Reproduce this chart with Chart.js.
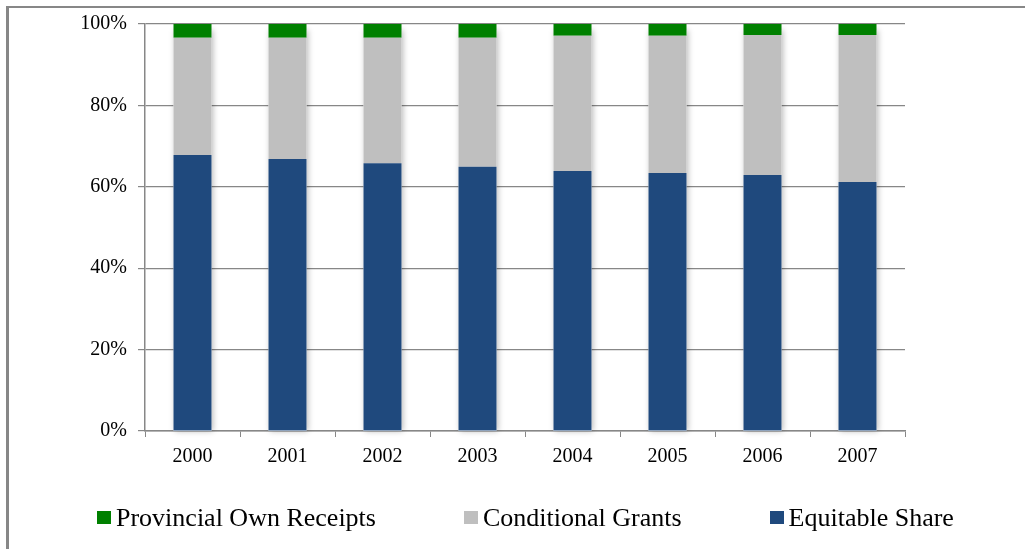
<!DOCTYPE html>
<html>
<head>
<meta charset="utf-8">
<script src="https://cdn.jsdelivr.net/npm/chart.js@4.4.1/dist/chart.umd.min.js"></script>
<style>
  html, body { margin: 0; padding: 0; background: #fff; }
  #wrap { position: relative; width: 1025px; height: 549px; overflow: hidden; }
  #frame { position: absolute; left: 6px; top: 6px; width: 1100px; height: 600px;
           border-left: 3px solid #878787; border-top: 2px solid #878787; pointer-events: none; }
  canvas { position: absolute; left: 0; top: 0; }
  #legend { position: absolute; left: 97px; top: 503px; height: 30px; display: flex; align-items: center;
            font-family: "Liberation Serif", "Times New Roman", serif; font-size: 26px; line-height: 30px; color: #000; white-space: nowrap; }
  .item { display: flex; align-items: center; margin-right: 88px; }
  .box { width: 14px; height: 13px; margin-right: 5px; margin-top: -1px; }
</style>
</head>
<body>
<div id="wrap">
  <div id="frame"></div>
  <canvas id="c" width="1025" height="549"></canvas>
  <div id="legend"></div>
</div>
<script>
const categories = ["2000", "2001", "2002", "2003", "2004", "2005", "2006", "2007"];
const equitableShare = [67.8, 66.8, 65.8, 64.9, 63.9, 63.4, 62.9, 61.2];
const conditionalGrants = [28.8, 29.8, 30.8, 31.7, 33.2, 33.7, 34.4, 36.1];
const provincialOwnReceipts = [3.4, 3.4, 3.4, 3.4, 2.9, 2.9, 2.7, 2.7];
const yTicks = [0, 20, 40, 60, 80, 100];

const COLORS = { equitable: "#1F497D", conditional: "#BFBFBF", own: "#008000" };
const AXIS = "#878787";
const FONT = "'Liberation Serif', 'Times New Roman', serif";

const shadowPlugin = {
  id: "barShadow",
  beforeDatasetsDraw(chart) {
    const ctx = chart.ctx;
    const meta = chart.getDatasetMeta(0);
    const y = chart.scales.y;
    ctx.save();
    ctx.shadowColor = "rgba(0,0,0,0.28)";
    ctx.shadowBlur = 6;
    ctx.shadowOffsetX = 1;
    ctx.fillStyle = "#ffffff";
    meta.data.forEach((bar, i) => {
      const total = chart.data.datasets.reduce((s, d) => s + d.data[i], 0);
      const top = y.getPixelForValue(total);
      const bottom = y.getPixelForValue(0);
      ctx.fillRect(bar.x - bar.width / 2, top + 6, bar.width, bottom - top - 6);
    });
    ctx.restore();
  }
};

const chart = new Chart(document.getElementById("c"), {
  type: "bar",
  data: {
    labels: categories,
    datasets: [
      { label: "Equitable Share", data: equitableShare, backgroundColor: COLORS.equitable },
      { label: "Conditional Grants", data: conditionalGrants, backgroundColor: COLORS.conditional },
      { label: "Provincial Own Receipts", data: provincialOwnReceipts, backgroundColor: COLORS.own }
    ]
  },
  options: {
    responsive: false,
    animation: false,
    layout: { padding: { left: 0, right: 120, top: 24, bottom: 78 } },
    datasets: { bar: { categoryPercentage: 1.0, barPercentage: 0.4, borderWidth: 0 } },
    plugins: { legend: { display: false }, tooltip: { enabled: false } },
    scales: {
      x: {
        stacked: true,
        grid: { offset: true, drawOnChartArea: false, drawTicks: true, tickLength: 6, color: AXIS, lineWidth: 1 },
        border: { color: AXIS, width: 1.5 },
        ticks: { color: "#000", font: { family: FONT, size: 20 }, padding: 8, maxRotation: 0 },
        afterFit(scale) { scale.height = 40; }
      },
      y: {
        stacked: true,
        min: 0, max: 100,
        afterBuildTicks(scale) { scale.ticks = yTicks.map(v => ({ value: v })); },
        grid: { color: AXIS, lineWidth: 1.2, tickLength: 7 },
        border: { color: AXIS, width: 1.5 },
        ticks: { color: "#000", font: { family: FONT, size: 20 }, padding: 11, callback: v => v + "%" },
        afterFit(scale) { scale.width = 145; }
      }
    }
  },
  plugins: [shadowPlugin]
});

// HTML legend, in the reference order
const legendEl = document.getElementById("legend");
[...chart.data.datasets].reverse().forEach(ds => {
  const item = document.createElement("div");
  item.className = "item";
  const box = document.createElement("span");
  box.className = "box";
  box.style.background = ds.backgroundColor;
  const txt = document.createElement("span");
  txt.textContent = ds.label;
  item.appendChild(box);
  item.appendChild(txt);
  legendEl.appendChild(item);
});
</script>
</body>
</html>
